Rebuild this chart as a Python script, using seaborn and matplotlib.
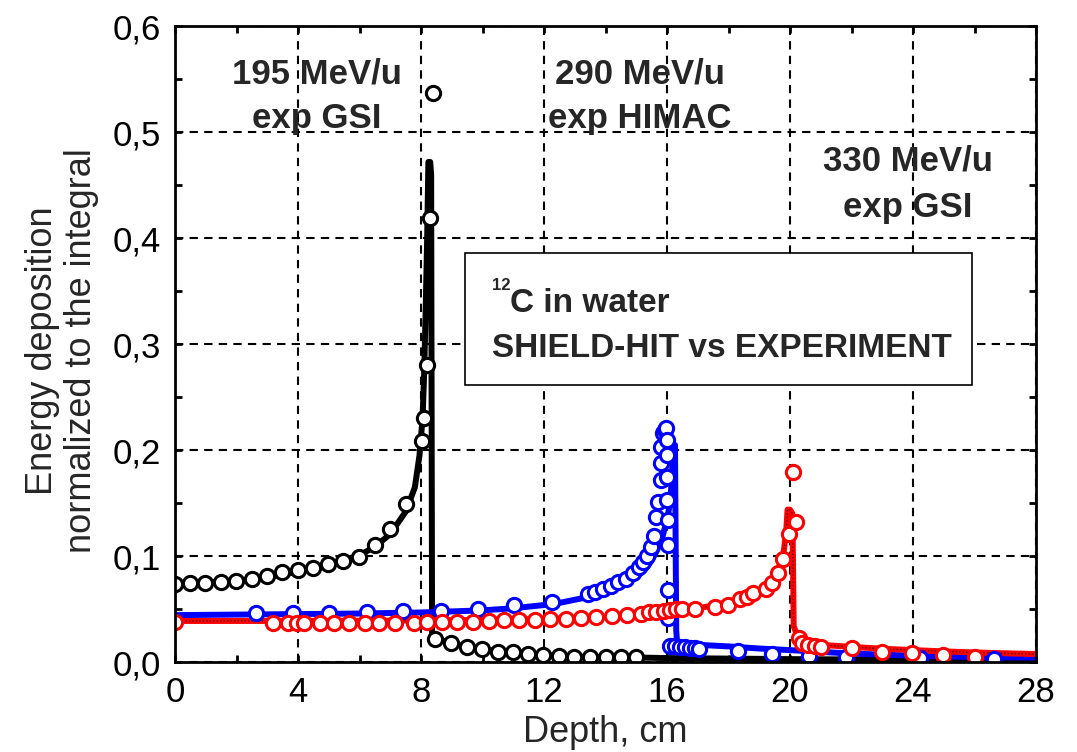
import numpy as np
import pandas as pd
import matplotlib
matplotlib.use("Agg")
import matplotlib.pyplot as plt
from matplotlib.ticker import MultipleLocator, FuncFormatter
from matplotlib.patches import Rectangle
import seaborn as sns

# ---------------- data ----------------
# 195 MeV/u (black) simulation
c195_sim_x = [0, 1, 2, 3, 4, 5, 6, 6.5, 7, 7.5, 7.8, 7.95, 8.05, 8.1, 8.15, 8.2, 8.24,
              8.3, 8.33, 8.36, 8.5, 9, 9.5, 10, 11, 12, 13, 14, 15, 16, 18, 20, 22, 24, 26, 28]
c195_sim_y = [0.074, 0.0755, 0.077, 0.080, 0.0855, 0.092, 0.101, 0.109, 0.121, 0.142, 0.165,
              0.195, 0.23, 0.27, 0.33, 0.40, 0.472, 0.472, 0.46, 0.028, 0.022, 0.0178, 0.0142,
              0.0122, 0.0092, 0.0068, 0.0053, 0.0047, 0.0045, 0.004, 0.0035, 0.003, 0.0027,
              0.0025, 0.0022, 0.002]
# 195 MeV/u experiment (GSI)
c195_exp_x = [0, 0.49, 0.98, 1.49, 1.98, 2.5, 2.98, 3.49, 3.99, 4.48, 4.99, 5.47, 5.98, 6.5,
              6.99, 7.5, 8.02, 8.1, 8.2, 8.29, 8.39, 8.46, 8.98, 9.49, 9.98, 10.49, 11.0,
              11.49, 11.98, 12.5, 12.99, 13.5, 14.0, 14.5, 15.0]
c195_exp_y = [0.074, 0.075, 0.075, 0.076, 0.077, 0.0786, 0.081, 0.085, 0.087, 0.0887, 0.0927,
              0.0956, 0.0996, 0.111, 0.126, 0.149, 0.2085, 0.230, 0.280, 0.419, 0.537, 0.0217,
              0.0179, 0.0142, 0.0123, 0.0100, 0.0094, 0.0078, 0.0069, 0.0059, 0.0053, 0.0050,
              0.0047, 0.0047, 0.0047]

# 290 MeV/u (blue) simulation
c290_sim_x = [0, 2, 4, 6, 8, 9, 10, 11, 12, 12.5, 13, 13.5, 14, 14.5, 15, 15.3, 15.5, 15.7,
              15.85, 16.0, 16.1, 16.15, 16.2, 16.26, 16.3, 16.33, 16.4, 17, 18, 19, 20, 21,
              22, 23, 24, 25, 26, 27, 28]
c290_sim_y = [0.0445, 0.045, 0.0455, 0.046, 0.047, 0.048, 0.049, 0.051, 0.054, 0.056, 0.059,
              0.062, 0.066, 0.072, 0.080, 0.088, 0.096, 0.107, 0.118, 0.135, 0.15, 0.17,
              0.205, 0.205, 0.03, 0.018, 0.0175, 0.0165, 0.015, 0.013, 0.0115, 0.0098,
              0.0083, 0.0072, 0.0063, 0.0056, 0.005, 0.0047, 0.0045]
# 290 MeV/u experiment (HIMAC)
c290_exp_x = [2.62, 3.83, 5.02, 6.23, 7.43, 8.64, 9.84, 11.04, 12.25, 13.44, 13.67, 13.93,
              14.17, 14.42, 14.66, 14.9, 15.1, 15.23, 15.34, 15.47, 15.59, 15.64, 15.72,
              15.82, 15.82, 15.82, 15.88, 15.93, 15.96, 15.99, 15.99, 15.99, 15.99, 16.02,
              16.02, 16.02, 16.04, 16.1, 16.26, 16.42, 16.58, 16.74, 16.9, 17.05, 18.3,
              19.43, 20.63, 21.82, 24.23, 26.64]
c290_exp_y = [0.0462, 0.0468, 0.0468, 0.0477, 0.0484, 0.0487, 0.0503, 0.054, 0.0572, 0.0644,
              0.066, 0.0689, 0.072, 0.076, 0.079, 0.084, 0.090, 0.095, 0.100, 0.109, 0.119,
              0.137, 0.1515, 0.172, 0.188, 0.203, 0.216, 0.219, 0.221, 0.21, 0.1955, 0.1745,
              0.153, 0.134, 0.1107, 0.068, 0.0415, 0.0154, 0.015, 0.0146, 0.0142, 0.0138,
              0.0134, 0.013, 0.011, 0.0078, 0.006, 0.0053, 0.0038, 0.0028]

# 330 MeV/u (red) simulation
c330_sim_x = [0, 2, 4, 6, 8, 10, 12, 13, 14, 15, 16, 16.5, 17, 17.5, 18, 18.5, 19, 19.3,
              19.5, 19.65, 19.75, 19.82, 19.88, 19.92, 20.0, 20.08, 20.12, 20.2, 20.3, 20.5,
              20.8, 21, 22, 23, 24, 25, 26, 27, 28]
c330_sim_y = [0.039, 0.039, 0.039, 0.0392, 0.0395, 0.040, 0.041, 0.0418, 0.043, 0.0445,
              0.047, 0.049, 0.051, 0.0535, 0.057, 0.061, 0.067, 0.072, 0.078, 0.086, 0.095,
              0.11, 0.125, 0.144, 0.144, 0.14, 0.034, 0.028, 0.024, 0.02, 0.0175, 0.0165,
              0.0145, 0.0128, 0.0115, 0.0103, 0.0093, 0.0085, 0.0078]
# 330 MeV/u experiment (GSI)
c330_exp_x = [0, 3.2, 3.69, 3.96, 4.2, 4.7, 5.18, 5.67, 6.17, 6.65, 7.17, 7.78, 8.2, 8.67,
              9.17, 9.69, 10.21, 10.7, 11.2, 11.7, 12.2, 12.7, 13.19, 13.7, 14.2, 14.7,
              15.15, 15.4, 15.65, 15.9, 16.1, 16.3, 16.48, 16.91, 17.56, 17.99, 18.37,
              18.59, 18.81, 19.22, 19.4, 19.62, 19.78, 19.97, 20.1, 20.2, 20.3, 20.38,
              20.6, 20.8, 21.0, 22.0, 23.0, 23.98, 24.98, 26.0]
c330_exp_y = [0.0383, 0.0374, 0.0374, 0.0374, 0.0374, 0.0374, 0.0374, 0.0374, 0.0374, 0.0374,
              0.0374, 0.0374, 0.0383, 0.0383, 0.0383, 0.0383, 0.0393, 0.040, 0.040, 0.040,
              0.0405, 0.0405, 0.042, 0.043, 0.044, 0.045, 0.046, 0.047, 0.0475, 0.048, 0.049,
              0.050, 0.050, 0.0503, 0.0525, 0.0543, 0.0597, 0.062, 0.065, 0.069, 0.0745,
              0.084, 0.097, 0.121, 0.18, 0.132, 0.0226, 0.0185, 0.016, 0.015, 0.0142,
              0.0132, 0.010, 0.009, 0.0065, 0.0047]

x_ticks = [0, 4, 8, 12, 16, 20, 24, 28]
y_ticks = [0.0, 0.1, 0.2, 0.3, 0.4, 0.5, 0.6]

# ---------------- style ----------------
sns.set_theme(style="ticks")
plt.rcParams["font.family"] = ["Liberation Sans", "DejaVu Sans"]

fig = plt.figure(figsize=(10.77, 7.52), dpi=100)
ax = fig.add_axes([175 / 1077, 1 - 662.3 / 752, 861 / 1077, 636 / 752])

lw_line = 4.3
series = [
    (c195_sim_x, c195_sim_y, c195_exp_x, c195_exp_y, "black"),
    (c290_sim_x, c290_sim_y, c290_exp_x, c290_exp_y, "#0000ff"),
    (c330_sim_x, c330_sim_y, c330_exp_x, c330_exp_y, "#ff0000"),
]

for sx, sy, ex, ey, col in series:
    sns.lineplot(x=sx, y=sy, ax=ax, color=col, lw=lw_line, sort=False,
                 estimator=None, zorder=3, legend=False)

# thin dotted overlay on red simulation
sns.lineplot(x=c330_sim_x, y=c330_sim_y, ax=ax, color="#600000", lw=1.0,
             linestyle=(0, (1, 1.5)), sort=False, estimator=None, zorder=3.5, legend=False)

for sx, sy, ex, ey, col in series:
    sns.scatterplot(x=ex, y=ey, ax=ax, marker="o", s=105, facecolor="white",
                    edgecolor=col, linewidth=2.2, zorder=4, legend=False)

ax.set_xlim(0, 28)
ax.set_ylim(0, 0.6)
ax.set_xticks(x_ticks)
ax.set_yticks(y_ticks)
ax.xaxis.set_minor_locator(MultipleLocator(2))
ax.yaxis.set_minor_locator(MultipleLocator(0.05))
ax.yaxis.set_major_formatter(FuncFormatter(lambda v, p: f"{v:.1f}".replace(".", ",")))
ax.xaxis.set_major_formatter(FuncFormatter(lambda v, p: f"{v:.0f}"))

ax.grid(True, which="major", color="black", linestyle=(0, (4, 3)), linewidth=1.5)
ax.set_axisbelow(True)

for sp in ax.spines.values():
    sp.set_visible(True)
    sp.set_linewidth(2.0)
    sp.set_color("black")
    sp.set_zorder(6)

ax.tick_params(which="both", direction="in", top=True, right=True, width=2.0,
               length=5, colors="black", labelsize=25, pad=10)

ax.set_xlabel("Depth, cm", fontsize=26, labelpad=4)
ax.set_ylabel("Energy deposition\nnormalized to the integral", fontsize=26,
              linespacing=1.15)
ax.yaxis.set_label_coords(-0.088, 0.49)

# annotations
fs_ann = 25
for xd, l1, l2, yb1, yb2 in [(4.62, "195 MeV/u", "exp GSI", 0.546, 0.504),
                             (15.12, "290 MeV/u", "exp HIMAC", 0.546, 0.504),
                             (23.84, "330 MeV/u", "exp GSI", 0.4644, 0.420)]:
    ax.text(xd, yb1, l1, ha="center", va="baseline", fontsize=fs_ann,
            fontweight="bold", zorder=7)
    ax.text(xd, yb2, l2, ha="center", va="baseline", fontsize=fs_ann,
            fontweight="bold", zorder=7)

# boxed label
ax.add_patch(Rectangle((0.3368, 0.436), 0.5885, 0.208, transform=ax.transAxes,
                       facecolor="white", edgecolor="black", linewidth=1.2, zorder=5))
ax.text(0.368, 0.585, "12", transform=ax.transAxes, fontsize=12, fontweight="bold",
        ha="left", va="baseline", zorder=7)
ax.text(0.389, 0.551, "C in water", transform=ax.transAxes, fontsize=24,
        fontweight="bold", ha="left", va="baseline", zorder=7)
ax.text(0.368, 0.4805, "SHIELD-HIT vs EXPERIMENT", transform=ax.transAxes, fontsize=24,
        fontweight="bold", ha="left", va="baseline", zorder=7)

fig.savefig("out.png", dpi=100, facecolor="white")
